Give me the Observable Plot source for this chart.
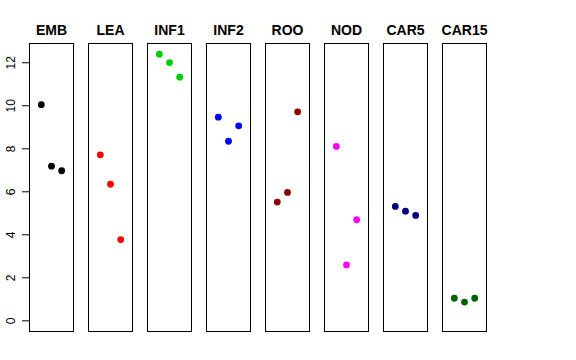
<!DOCTYPE html>
<html>
<head>
<meta charset="utf-8">
<script src="https://cdn.jsdelivr.net/npm/d3@7"></script>
<script src="https://cdn.jsdelivr.net/npm/@observablehq/plot@0.6"></script>
<style>
  html, body { margin: 0; padding: 0; background: #fff; }
</style>
</head>
<body>
<div id="chart"></div>
<script>
const groups = ["EMB", "LEA", "INF1", "INF2", "ROO", "NOD", "CAR5", "CAR15"];
const colors = ["#000000", "#ff0000", "#00cd00", "#0000ff", "#8b0000", "#ff00ff", "#000080", "#006400"];
const rep1 = [10.05, 7.72, 12.40, 9.47, 5.52, 8.11, 5.32, 1.05];
const rep2 = [7.19, 6.35, 12.01, 8.35, 5.97, 2.60, 5.10, 0.87];
const rep3 = [6.98, 3.78, 11.33, 9.07, 9.72, 4.70, 4.90, 1.05];
const yTicks = [0, 2, 4, 6, 8, 10, 12];

const data = [];
groups.forEach((g, i) => {
  [rep1, rep2, rep3].forEach((rep, j) => {
    data.push({group: g, rep: j + 1, value: rep[i], color: colors[i]});
  });
});

const chart = Plot.plot({
  width: 576,
  height: 360,
  marginLeft: 29,
  marginRight: 88,
  marginTop: 43,
  marginBottom: 29,
  style: {fontFamily: "'Liberation Sans', Arial, Helvetica, sans-serif", background: "#fff"},
  fx: {domain: groups, paddingInner: 0.25, paddingOuter: 0, align: 0},
  x: {domain: [-0.16, 4.16], axis: null},
  y: {domain: [-0.496, 12.896]},
  marks: [
    Plot.frame({stroke: "#000", strokeWidth: 1}),
    Plot.axisFx({anchor: "top", tickSize: 0, tickPadding: 9, fontSize: 14, fontWeight: "bold", label: null, fill: "#000"}),
    Plot.axisY(yTicks, {anchor: "left", tickSize: 7, tickPadding: 8, tickRotate: -90, fontSize: 12, label: null, stroke: "#000", fill: "#000"}),
    Plot.dot(data, {fx: "group", x: "rep", y: "value", r: 3.4, fill: "color", stroke: null})
  ]
});
document.getElementById("chart").appendChild(chart);
</script>
</body>
</html>
